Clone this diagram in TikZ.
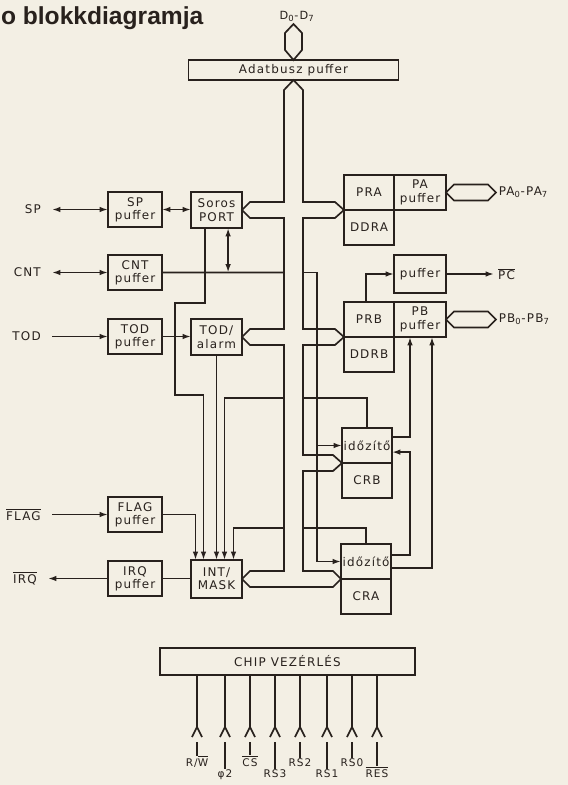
\documentclass[tikz,border=0pt]{standalone}
\usepackage{fontspec}
\usepackage{tikz}
\usetikzlibrary{arrows.meta,positioning}
\newfontfamily\diafont[LetterSpace=10]{DejaVu Sans}
\newfontfamily\headfont{Liberation Sans}
\newcommand{\blkfont}{\diafont\fontsize{8.5}{9.5}\selectfont}
\newcommand{\ovl}[1]{$\overline{\mbox{#1}}$}
\definecolor{paper}{RGB}{243,239,228}
\definecolor{ink}{RGB}{40,33,29}

\begin{document}
\begin{tikzpicture}[
        x=0.25mm, y=-0.25mm,
        >={Latex[length=6pt,width=4pt]},
        color=ink, line width=1.2pt,
        every node/.style={font=\blkfont, align=center, inner sep=0pt, outer sep=0pt},
        blk/.style={draw, anchor=north west},
        inbuf/.style={blk, minimum width=13.5mm, minimum height=8.75mm},
        core/.style={blk, minimum width=12.75mm, minimum height=9mm},
        reg/.style={blk, minimum width=12.5mm, minimum height=8.75mm},
        outbuf/.style={blk, minimum width=13mm, minimum height=8.75mm},
        sig/.style={anchor=east, inner xsep=8pt},
        bus/.style={line join=miter}
    ]
        \useasboundingbox (0,0) rectangle (568,785);
        \fill[paper] (0,0) rectangle (568,785);
        \node[font=\headfont\bfseries\fontsize{17.5}{20}\selectfont, anchor=base west] (head) at (1,24) {o blokkdiagramja};

        \node[blk, minimum width=52.5mm, minimum height=5mm] (adat) at (188.5,60) {Adatbusz puffer};
        \node[font=\diafont\fontsize{8}{9}\selectfont, anchor=base] (dlab) at (297,19) {D\textsubscript{0}-D\textsubscript{7}};

        \node[inbuf] (sppuf) at (108,192) {SP\\puffer};
        \node[core] (soros) at (191,192) {Soros\\PORT};
        \node[inbuf] (cntpuf) at (108,255) {CNT\\puffer};
        \node[inbuf] (todpuf) at (108,319) {TOD\\puffer};
        \node[core] (todal) at (191,319) {TOD/\\alarm};
        \node[inbuf] (flagpuf) at (108,497) {FLAG\\puffer};
        \node[inbuf] (irqpuf) at (108,561) {IRQ\\puffer};
        \node[core, minimum height=9.5mm] (intmask) at (191,560) {INT/\\MASK};

        \node[reg] (pra) at (344,175) {PRA};
        \node[reg, below=0pt of pra] (ddra) {DDRA};
        \node[outbuf, right=0pt of pra] (papuf) {PA\\puffer};
        \node[outbuf, minimum height=9.5mm] (pcpuf) at (394,255) {puffer};
        \node[reg] (prb) at (344,302) {PRB};
        \node[reg, below=0pt of prb] (ddrb) {DDRB};
        \node[outbuf, right=0pt of prb] (pbpuf) {PB\\puffer};
        \node[reg] (timb) at (342,428) {időzítő};
        \node[reg, below=0pt of timb] (crb) {CRB};
        \node[reg] (tima) at (341,544) {időzítő};
        \node[reg, below=0pt of tima] (cra) {CRA};

        \node[blk, minimum width=63.75mm, minimum height=6.75mm] (chip) at (160,648) {CHIP VEZÉRLÉS};

        \node[sig] (sp) at (52,209.5) {SP};
        \node[sig] (cnt) at (52,272.5) {CNT};
        \node[sig] (tod) at (52,336.5) {TOD};
        \node[sig] (flag) at (52,514.5) {\ovl{FLAG}};
        \node[sig] (irq) at (48,578.5) {\ovl{IRQ}};
        \node[anchor=west, inner xsep=2pt] (pa) at (496,192.5) {PA\textsubscript{0}-PA\textsubscript{7}};
        \node[anchor=west, inner xsep=3pt] (pc) at (494,274) {\ovl{PC}};
        \node[anchor=west, inner xsep=2pt] (pb) at (496,319.5) {PB\textsubscript{0}-PB\textsubscript{7}};

        % data bus
        \draw[bus] (adat.north) -- (285,50) -- (285,33) -- (293.5,24) -- (302,33) -- (302,50) -- cycle;
        \draw[bus] (adat.south) -- (284,90) -- (284,202) -- (250,202) -- (soros.east) -- (250,218) -- (284,218)
            -- (284,329) -- (250,329) -- (todal.east) -- (250,345) -- (284,345)
            -- (284,571) -- (250,571) -- (intmask.east) -- (250,587) -- (333,587) -- (tima.south west)
            -- (333,571) -- (303,571) -- (303,471) -- (333,471) -- (timb.south west) -- (333,455) -- (303,455)
            -- (303,345) -- (335,345) -- (prb.south west) -- (335,329) -- (303,329)
            -- (303,218) -- (335,218) -- (pra.south west) -- (335,202) -- (303,202) -- (303,90) -- cycle;
        \draw[bus] (papuf.east) -- ++(8,-8) -- ++(34,0) -- ++(8,8) -- ++(-8,8) -- ++(-34,0) -- cycle;
        \draw[bus] (pbpuf.east) -- ++(8,-8) -- ++(34,0) -- ++(8,8) -- ++(-8,8) -- ++(-34,0) -- cycle;

        \draw[<->] (sp.east) -- (sp.east -| sppuf.west);
        \draw[<->] (sppuf.east) -- (sppuf.east -| soros.west);
        \draw[<->] (cnt.east) -- (cnt.east -| cntpuf.west);
        \draw[->] (tod.east) -- (tod.east -| todpuf.west);
        \draw[->] (todpuf.east) -- (todpuf.east -| todal.west);
        \draw[->] (flag.east) -- (flag.east -| flagpuf.west);
        \draw[->] (irqpuf.west) -- (irqpuf.west -| irq.east);
        \draw (irqpuf.east) -- (irqpuf.east -| intmask.west);

        % CNT
        \coordinate (cntL) at (284,272.5);
        \coordinate (cntR) at (317,272.5);
        \draw (cntpuf.east) -- (cntL);
        \draw[<->] ([xshift=2.9mm]soros.south) -- ([xshift=2.9mm]soros.south |- cntL);
        \draw (303,272.5) -- (cntR) -- (cntR |- tima.west);
        \draw[->] (cntR |- timb.west) -- (timb.west);
        \draw[->] (cntR |- tima.west) -- (tima.west);

        % interrupts
        \coordinate (irB) at (284,398);
        \coordinate (irA) at (284,528);
        \draw[->] (flagpuf.east) -| ([xshift=-5.25mm]intmask.north);
        \draw[->] ([xshift=-2.9mm]soros.south) -- ++(0,75) -- ++(-30,0) -- ++(0,92) -| ([xshift=-3.25mm]intmask.north);
        \draw[->] (todal.south) -- (todal.south |- intmask.north);
        \draw (timb.north) |- (303,398);
        \draw[->] (irB) -| ([xshift=2mm]intmask.north);
        \draw (tima.north) |- (303,528);
        \draw[->] (irA) -| ([xshift=4.25mm]intmask.north);

        % port B side
        \draw[->] ([xshift=-0.75mm]prb.north) |- (pcpuf.west);
        \draw[->] (pcpuf.east) -- (pc.west);
        \draw[->] ([yshift=2.1mm]timb.east) -| ([xshift=-2.5mm]pbpuf.south);
        \draw[->] ([yshift=-1.6mm]tima.east) -| ([xshift=3mm]pbpuf.south);
        \draw[->] ([yshift=1.6mm]tima.east) -- ++(19,0) |- ([yshift=-1.65mm]timb.east);

        % chip select lines
        \foreach \i/\px/\lab/\row in {1/197/{R/\ovl{W}}/0, 2/225/{φ2}/1, 3/250/{\ovl{CS}}/0, 4/275/{RS3}/1,
                5/300/{RS2}/0, 6/327/{RS1}/1, 7/352/{RS0}/0, 8/377/{\ovl{RES}}/1} {
            \coordinate (p\i) at (\px,727);
            \draw (chip.south -| p\i) -- (p\i);
            \draw (p\i) -- ++(-5,10) (p\i) -- ++(5,10);
            \node[font=\diafont\fontsize{7.5}{8}\selectfont, anchor=base] (l\i) at (\px,{766+11*\row}) {\lab};
            \draw ([yshift=-3.75mm]p\i) -- (l\i.north);
        }
    \end{tikzpicture}
\end{document}
